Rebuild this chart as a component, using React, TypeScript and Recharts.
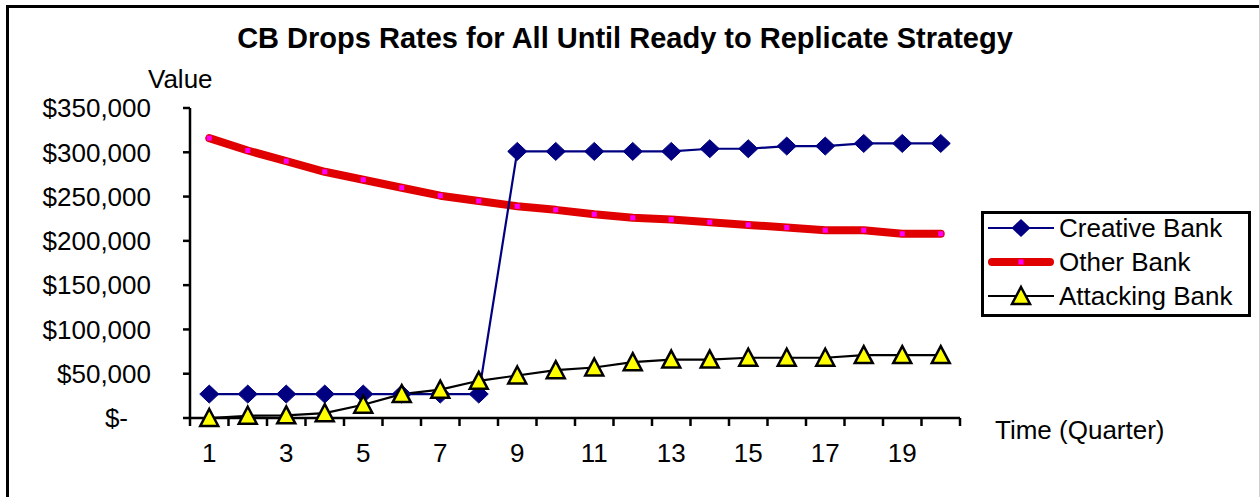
import React from 'react';
import { LineChart, Line, XAxis, YAxis, Legend } from 'recharts';

// Quarter index for each observation
const quarters = [1, 2, 3, 4, 5, 6, 7, 8, 9, 10, 11, 12, 13, 14, 15, 16, 17, 18, 19, 20];

// Values per quarter (USD)
const creativeBank = [
  27000, 27000, 27000, 27000, 27000, 27000, 27000, 27000,
  301000, 301000, 301000, 301000, 301000, 304000, 304000, 307000, 307000, 310000, 310000, 310000,
];
const otherBank = [
  316000, 302000, 290000, 278000, 269000, 260000, 251000, 245000, 239000, 235000,
  230000, 226000, 224000, 221000, 218000, 215000, 212000, 212000, 208000, 208000,
];
const attackingBank = [
  0, 2500, 3000, 5500, 15000, 27000, 32000, 42000, 48000, 54000,
  57000, 63000, 66000, 66000, 68000, 68000, 68000, 71000, 71000, 71000,
];

// Axis labels
const quarterTickLabels = [1, 3, 5, 7, 9, 11, 13, 15, 17, 19];
const valueTicks = [0, 50000, 100000, 150000, 200000, 250000, 300000, 350000];

const seriesNames = ['Creative Bank', 'Other Bank', 'Attacking Bank'];

const FONT = '"Liberation Sans", Arial, Helvetica, sans-serif';
const NAVY = '#000080';
const RED = '#E00000';
const MAGENTA = '#FF00FF';
const YELLOW = '#FFFF00';

const data = quarters.map((q, i) => ({
  quarter: q,
  creative: creativeBank[i],
  other: otherBank[i],
  attacking: attackingBank[i],
}));

// Category boundaries where the x-axis tick marks sit
const quarterBoundaries = [quarters[0] - 0.5, ...quarters.map((q) => q + 0.5)];
const xTicks = [...quarterBoundaries, ...quarterTickLabels].sort((a, b) => a - b);

const formatMoney = (v: number) => (v === 0 ? '$-' : '$' + v.toLocaleString('en-US'));

// Marker shapes
const diamondPath = (cx: number, cy: number) =>
  `M${cx},${cy - 9} L${cx + 9.5},${cy} L${cx},${cy + 9} L${cx - 9.5},${cy} Z`;
const trianglePath = (cx: number, cy: number) =>
  `M${cx},${cy - 9} L${cx + 9},${cy + 8} L${cx - 9},${cy + 8} Z`;

const DiamondDot = (props: any) => {
  const { cx, cy, index } = props;
  if (cx == null || cy == null) return <g key={`cd-${index}`} />;
  return <path key={`cd-${index}`} d={diamondPath(cx, cy)} fill={NAVY} stroke={NAVY} strokeWidth={1} />;
};

const SquareDot = (props: any) => {
  const { cx, cy, index } = props;
  if (cx == null || cy == null) return <g key={`od-${index}`} />;
  return <rect key={`od-${index}`} x={cx - 2.5} y={cy - 2.5} width={5} height={5} fill={MAGENTA} />;
};

const TriangleDot = (props: any) => {
  const { cx, cy, index } = props;
  if (cx == null || cy == null) return <g key={`ad-${index}`} />;
  return (
    <path
      key={`ad-${index}`}
      d={trianglePath(cx, cy)}
      fill={YELLOW}
      stroke="#000"
      strokeWidth={2.5}
      strokeLinejoin="miter"
    />
  );
};

const XTick = (props: any) => {
  const { x, y, payload } = props;
  const v = payload.value as number;
  if (!Number.isInteger(v)) {
    return <line x1={x} x2={x} y1={y} y2={y + 8} stroke="#000" strokeWidth={2.5} />;
  }
  if (quarterTickLabels.includes(v)) {
    return (
      <text x={x} y={y + 44} textAnchor="middle" fontFamily={FONT} fontSize={26} fill="#000">
        {v}
      </text>
    );
  }
  return <g />;
};

const YTick = (props: any) => {
  const { x, y, payload } = props;
  const v = payload.value as number;
  return (
    <text
      x={v === 0 ? x - 23 : x}
      y={y}
      dy="0.355em"
      textAnchor="end"
      fontFamily={FONT}
      fontSize={26}
      fill="#000"
    >
      {formatMoney(v)}
    </text>
  );
};

const LegendSample = ({ kind }: { kind: number }) => {
  if (kind === 0) {
    return (
      <svg width={66} height={34}>
        <line x1={0} x2={66} y1={17} y2={17} stroke={NAVY} strokeWidth={2} />
        <path d={diamondPath(33, 17)} fill={NAVY} />
      </svg>
    );
  }
  if (kind === 1) {
    return (
      <svg width={66} height={34}>
        <line x1={4} x2={62} y1={17} y2={17} stroke={RED} strokeWidth={8} strokeLinecap="round" />
        <rect x={30.5} y={14.5} width={5} height={5} fill={MAGENTA} />
      </svg>
    );
  }
  return (
    <svg width={66} height={34}>
      <line x1={0} x2={66} y1={17} y2={17} stroke="#000" strokeWidth={2} />
      <path d={trianglePath(33, 17)} fill={YELLOW} stroke="#000" strokeWidth={2.5} />
    </svg>
  );
};

const LegendBox = () => (
  <div
    style={{
      width: 270,
      height: 106,
      boxSizing: 'border-box',
      border: '3px solid #000',
      background: '#fff',
      fontFamily: FONT,
      fontSize: 26,
      color: '#000',
    }}
  >
    <div style={{ marginTop: -3 }}>
      {seriesNames.map((name, i) => (
        <div key={name} style={{ display: 'flex', alignItems: 'center', height: 34, paddingLeft: 4 }}>
          <LegendSample kind={i} />
          <span style={{ marginLeft: 5, lineHeight: '34px', whiteSpace: 'nowrap' }}>{name}</span>
        </div>
      ))}
    </div>
  </div>
);

export default function App() {
  return (
    <div
      style={{
        position: 'absolute',
        left: 0,
        top: 0,
        width: 1260,
        height: 497,
        background: '#fff',
        overflow: 'hidden',
        fontFamily: FONT,
      }}
    >
      {/* frame */}
      <div
        style={{
          position: 'absolute',
          left: 6,
          top: 5,
          width: 1260,
          height: 520,
          borderLeft: '3px solid #000',
          borderTop: '3px solid #000',
        }}
      />
      <div style={{ position: 'absolute', left: 1259, top: 0, width: 1, height: 497, background: '#d0d0d0' }} />

      <div
        style={{
          position: 'absolute',
          left: 0,
          top: 24,
          width: 1250,
          textAlign: 'center',
          fontWeight: 'bold',
          fontSize: 29,
          lineHeight: '29px',
          whiteSpace: 'nowrap',
          color: '#000',
        }}
      >
        CB Drops Rates for All Until Ready to Replicate Strategy
      </div>
      <div
        style={{ position: 'absolute', left: 148, top: 66, fontSize: 26, lineHeight: '26px', color: '#000' }}
      >
        Value
      </div>
      <div
        style={{
          position: 'absolute',
          left: 995,
          top: 417,
          fontSize: 26,
          lineHeight: '26px',
          whiteSpace: 'nowrap',
          color: '#000',
        }}
      >
        Time (Quarter)
      </div>

      <div style={{ position: 'absolute', left: 0, top: 0 }}>
        <LineChart
          width={1260}
          height={497}
          data={data}
          margin={{ top: 108, right: 300, bottom: 0, left: 0 }}
        >
          <XAxis
            dataKey="quarter"
            type="number"
            domain={[quarterBoundaries[0], quarterBoundaries[quarterBoundaries.length - 1]]}
            ticks={xTicks}
            interval={0}
            height={79}
            tickSize={0}
            tickMargin={0}
            tickLine={false}
            axisLine={{ stroke: '#000', strokeWidth: 2.5 }}
            tick={<XTick />}
            allowDecimals
          />
          <YAxis
            type="number"
            domain={[valueTicks[0], valueTicks[valueTicks.length - 1]]}
            ticks={valueTicks}
            interval={0}
            width={190}
            tickSize={7}
            tickMargin={32}
            tickLine={{ stroke: '#000', strokeWidth: 2.5 }}
            axisLine={{ stroke: '#000', strokeWidth: 2.5 }}
            tick={<YTick />}
          />
          <Legend
            layout="horizontal"
            verticalAlign="middle"
            align="center"
            wrapperStyle={{ left: 981, top: 211, width: 270, height: 106 }}
            content={() => <LegendBox />}
          />
          <Line
            dataKey="other"
            name={seriesNames[1]}
            type="linear"
            stroke={RED}
            strokeWidth={8}
            strokeLinecap="round"
            strokeLinejoin="round"
            dot={SquareDot}
            activeDot={false}
            isAnimationActive={false}
          />
          <Line
            dataKey="creative"
            name={seriesNames[0]}
            type="linear"
            stroke={NAVY}
            strokeWidth={2.2}
            dot={DiamondDot}
            activeDot={false}
            isAnimationActive={false}
          />
          <Line
            dataKey="attacking"
            name={seriesNames[2]}
            type="linear"
            stroke="#000"
            strokeWidth={2.2}
            dot={TriangleDot}
            activeDot={false}
            isAnimationActive={false}
          />
        </LineChart>
      </div>
    </div>
  );
}
